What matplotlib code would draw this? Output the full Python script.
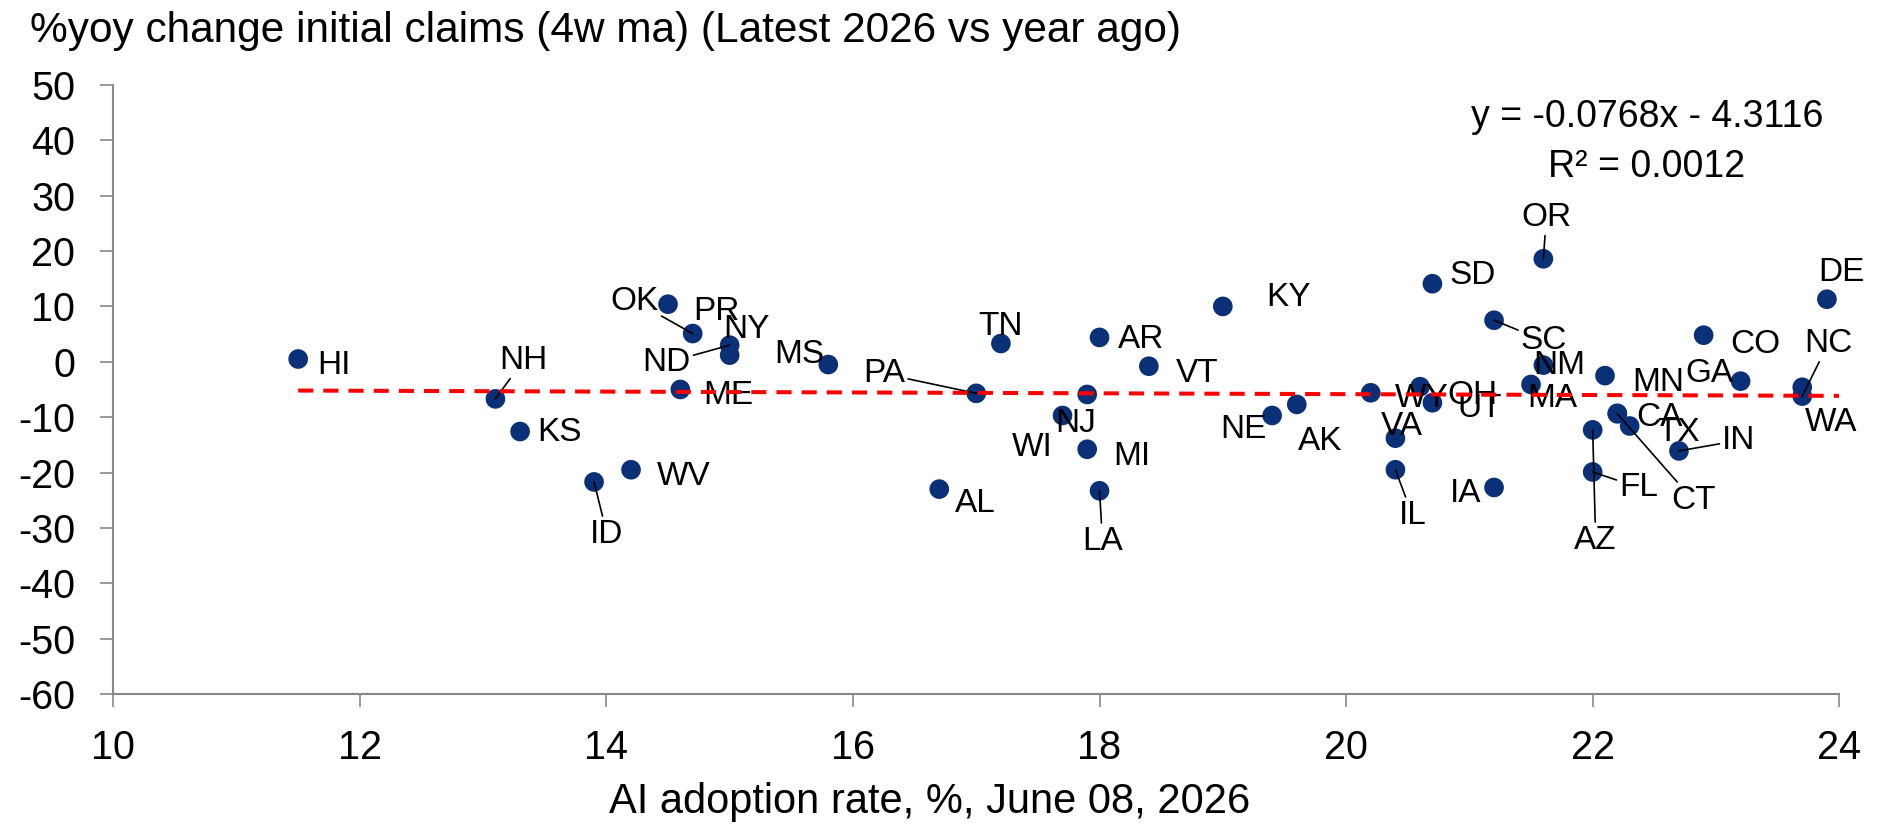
import numpy as np
import matplotlib.pyplot as plt

plt.rcParams['font.family'] = ['Liberation Sans', 'DejaVu Sans']
plt.rcParams['axes.unicode_minus'] = False  #excel uses a plain hyphen

#state codes, ai adoption rate (%) and yoy change in initial claims (4w ma, %)
states = ["HI", "NH", "KS", "ID", "WV", "PR", "OK", "ND", "NY", "ME",
          "MS", "AL", "PA", "TN", "WI", "NJ", "MI", "AR", "LA", "VT",
          "KY", "NE", "AK", "WY", "VA", "IL", "OH", "UT", "SD", "SC",
          "IA", "MA", "OR", "NM", "AZ", "FL", "MN", "CA", "CT", "TX",
          "IN", "CO", "GA", "WA", "NC", "DE"]
ai_rate = [11.5, 13.1, 13.3, 13.9, 14.2, 14.5, 14.7, 15.0, 15.0, 14.6,
           15.8, 16.7, 17.0, 17.2, 17.7, 17.9, 17.9, 18.0, 18.0, 18.4,
           19.0, 19.4, 19.6, 20.2, 20.4, 20.4, 20.6, 20.7, 20.7, 21.2,
           21.2, 21.5, 21.6, 21.6, 22.0, 22.0, 22.1, 22.2, 22.2, 22.3,
           22.7, 22.9, 23.2, 23.7, 23.7, 23.9]
claims_yoy = [0.5, -6.7, -12.6, -21.7, -19.5, 10.4, 5.1, 3.0, 1.2, -5.0,
              -0.5, -23.0, -5.7, 3.3, -9.7, -5.9, -15.8, 4.4, -23.3, -0.8,
              10.0, -9.7, -7.7, -5.6, -13.8, -19.5, -4.5, -7.4, 14.1, 7.5,
              -22.7, -4.1, 18.6, -0.6, -12.3, -19.9, -2.5, -9.3, -9.4, -11.6,
              -16.1, 4.8, -3.5, -4.6, -6.2, 11.3]

#linear trendline as reported by excel
slope = -0.0768
intercept = -4.3116
r_squared = 0.0012

x_ticks = [10, 12, 14, 16, 18, 20, 22, 24]
y_ticks = [-60, -50, -40, -30, -20, -10, 0, 10, 20, 30, 40, 50]

#where each label sits relative to its dot (pixels, y up), copied from the original layout
label_offsets = {
    "HI": (36, -3), "NH": (28, 42), "KS": (39, 3), "ID": (13, -49), "WV": (53, -3),
    "PR": (48, -4), "OK": (-58, 36), "ND": (-63, -14), "NY": (17, 29), "ME": (48, -3),
    "MS": (-29, 14), "AL": (36, -11), "PA": (-92, 23), "TN": (0, 21), "WI": (-30, -29),
    "NJ": (-12, -26), "MI": (45, -4), "AR": (42, 1), "LA": (3, -47), "VT": (48, -4),
    "KY": (66, 12), "NE": (-29, -11), "AK": (23, -34), "WY": (51, -2), "VA": (6, 15),
    "IL": (17, -42), "OH": (52, -5), "UT": (47, -2), "SD": (40, 12), "SC": (50, -17),
    "IA": (-28, -3), "MA": (21, -11), "OR": (3, 45), "NM": (16, 3), "AZ": (3, -107),
    "FL": (46, -12), "MN": (53, -3), "CA": (42, -1), "CT": (76, -83), "TX": (49, -3),
    "IN": (60, 14), "CO": (52, -6), "GA": (-31, 11), "WA": (29, -32), "NC": (26, 56),
    "DE": (15, 30),
}
#labels that were dragged away and have a leader line back to the dot
leader_states = ["NH", "ID", "OK", "ND", "PA", "LA", "IL", "OR", "SC", "NC",
                 "IN", "CT", "FL", "AZ"]

fig = plt.figure(figsize=(18.81, 8.24), dpi=100)
ax = fig.add_axes([0.0602, 0.1578, 0.9176, 0.7391])

ax.scatter(ai_rate, claims_yoy, s=200, color="#0a3078", edgecolors="none", zorder=2)

ax.set_xlim(10, 24)
ax.set_ylim(-60, 50)

#trendline runs from the first point to the right edge
trend_x = np.array([min(ai_rate), ax.get_xlim()[1]])
ax.plot(trend_x, slope * trend_x + intercept, color="#ff0000", lw=2.9,
        linestyle=(0, (3.75, 2.5)), zorder=5)

for name, x, y in zip(states, ai_rate, claims_yoy):
    dx, dy = label_offsets[name]
    props = None
    if name in leader_states:
        props = dict(arrowstyle="-", color="black", lw=1.2, shrinkA=0, shrinkB=0)
    ax.annotate(name, (x, y), xytext=(dx, dy), textcoords="offset pixels",
                ha="center", va="center_baseline", fontsize=24,
                arrowprops=props, zorder=4)

#equation box top right
ax.text(0.8886, 0.954, f"y = {slope}x - {abs(intercept)}", transform=ax.transAxes,
        ha="center", va="center_baseline", fontsize=27)
ax.text(0.8886, 0.872, f"R² = {r_squared}", transform=ax.transAxes,
        ha="center", va="center_baseline", fontsize=27)

ax.set_xticks(x_ticks)
ax.set_yticks(y_ticks)
for side in ["top", "right"]:
    ax.spines[side].set_visible(False)
for side in ["left", "bottom"]:
    ax.spines[side].set_color("#898989")
    ax.spines[side].set_linewidth(1.5)
ax.tick_params(axis="both", length=9.4, width=1.2, color="#898989",
               labelsize=28.5, direction="out")
ax.tick_params(axis="x", pad=16)
ax.tick_params(axis="y", pad=18)

ax.set_xlabel("AI adoption rate, %, June 08, 2026", fontsize=30)
ax.xaxis.set_label_coords(0.4732, -0.1954)
ax.xaxis.label.set_va("baseline")

fig.text(30 / 1881, 1 - 42 / 824, "%yoy change initial claims (4w ma) (Latest 2026 vs year ago)",
         fontsize=30.5, ha="left", va="baseline")

fig.savefig("out.png", dpi=100)
